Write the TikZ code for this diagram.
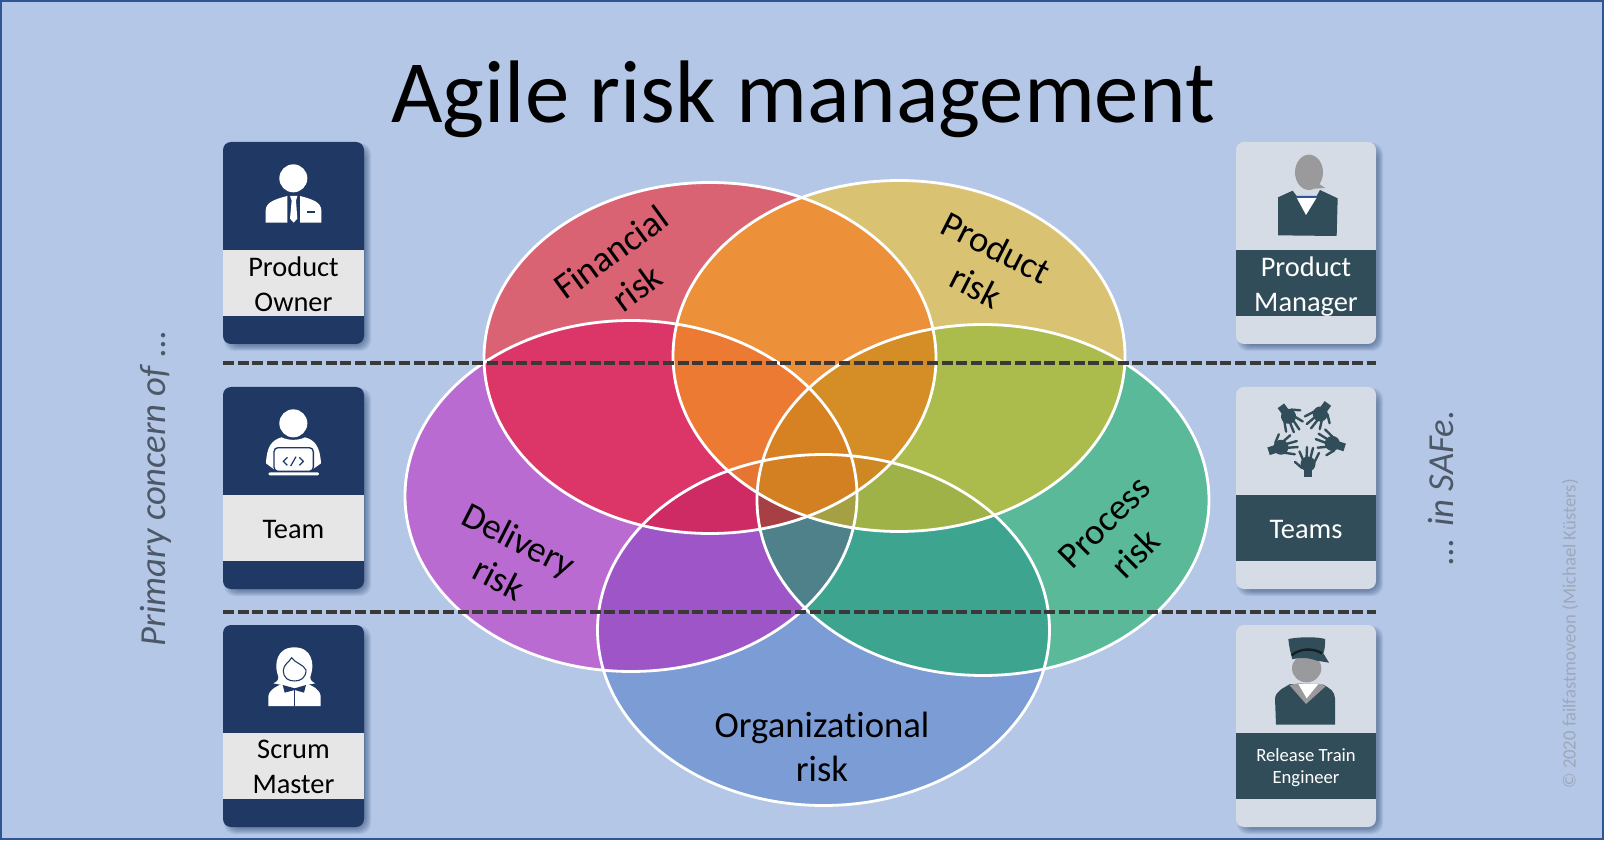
\documentclass[tikz,border=0pt]{standalone}
\usepackage{fontspec}
\setmainfont[Ligatures=NoCommon]{Carlito}
\usetikzlibrary{positioning}
\usetikzlibrary{calc}

\definecolor{bgblue}{HTML}{B4C7E7}
\definecolor{rimblue}{HTML}{2F5597}
\definecolor{navy}{HTML}{1F3864}
\definecolor{stripegray}{HTML}{E7E6E6}
\definecolor{cardgray}{HTML}{D6DCE5}
\definecolor{slate}{HTML}{314D5A}
\definecolor{headgray}{HTML}{9A9A9C}
\definecolor{dashgray}{HTML}{3B3838}
\definecolor{notegray}{HTML}{4D5866}
\definecolor{markgray}{HTML}{9EA8B9}
\definecolor{finrisk}{HTML}{FF0000}
\definecolor{prodrisk}{HTML}{FFC000}
\definecolor{delrisk}{HTML}{C010BD}
\definecolor{procrisk}{HTML}{00AD4D}
\definecolor{orgrisk}{HTML}{4672C5}

\newcommand{\cardfont}{\fontsize{21.3}{26.2}\selectfont}
\newcommand{\rtefont}{\fontsize{14}{16.5}\selectfont}
\newcommand{\riskfont}{\fontsize{27.5}{33}\selectfont}

\tikzset{
  zoomed/.style={shift={#1},x=0.25pt,y=-0.25pt},
  cardbody/.style={rectangle,rounded corners=6pt,minimum height=151.5pt,inner sep=0pt},
  stripe/.style={rectangle,minimum height=49.8pt,inner sep=0pt},
  cardlabel/.style={align=center,inner sep=0pt},
  risklabel/.style={font=\riskfont,align=center,inner sep=0pt},
  sidenote/.style={font=\fontsize{27.5}{32}\selectfont\itshape,text=notegray,rotate=90,inner sep=0pt},
  cutline/.style={dashgray,line width=2.7pt,dash pattern=on 8.2pt off 2.8pt}
}

\begin{document}
\begin{tikzpicture}[x=0.75pt,y=-0.75pt]
  \useasboundingbox (0,0) rectangle (1604,866);

  %background
  \fill[white] (0,0) rectangle (1604,866);
  \draw[rimblue,fill=bgblue,line width=1.8pt] (1,1) rectangle (1603,839);

  \node[font=\fontsize{66.6}{70}\selectfont,inner sep=0pt] (title) at (803,99) {Agile risk management};

  %risk ellipses
  \foreach \name/\cx/\cy/\col in {org/823.5/630/orgrisk, del/631/496/delrisk, proc/983/500/procrisk, fin/710/358/finrisk, prod/899/356/prodrisk}{
    \coordinate (\name) at (\cx,\cy);
    \fill[\col,fill opacity=0.5] (\name) ellipse [x radius=226,y radius=175.5];
  }
  \foreach \name in {org,proc,del,fin,prod}{
    \draw[white,line width=2.1pt] (\name) ellipse [x radius=226,y radius=175.5];
  }

  \node[risklabel,rotate=36] (finlabel) at (624,270) {Financial\\risk};
  \node[risklabel,rotate=-27] (prodlabel) at (986,267) {Product\\risk};
  \node[risklabel,rotate=-27] (dellabel) at (509,559) {Delivery\\risk};
  \node[risklabel,rotate=45] (proclabel) at (1120,538) {Process\\risk};
  \node[risklabel] (orglabel) at (822,747) {Organizational\\risk};

  %cut lines
  \coordinate (cutAw) at (223,363);
  \coordinate (cutAe) at (1376,363);
  \coordinate (cutBw) at (223,612);
  \coordinate (cutBe) at (1376,612);
  \draw[cutline] (cutAw) -- (cutAe);
  \draw[cutline] (cutBw) -- (cutBe);

  %left cards
  \def\w{141};
  \def\cx{223};
  \foreach \name/\top/\txt in {po/142/Product\\Owner, team/387/Team, sm/625/Scrum\\Master}{
    \foreach \k in {3,2,1,0,-1,-2,-3}{
      \fill[navy,opacity=0.09,rounded corners=8pt] (\cx+4-\k,\top+4-\k) rectangle (\cx+\w+4+\k,\top+202+4+\k);
    }
    \node[cardbody,fill=navy,minimum width=\w*0.75pt] (\name card) at (\cx+\w/2,\top+101) {};
    \node[stripe,fill=stripegray,minimum width=\w*0.75pt] (\name stripe) at (\cx+\w/2,\top+141) {};
    \node[cardlabel,font=\cardfont] (\name label) at (\cx+\w/2,\top+142) {\txt};
  }

  %right cards
  \def\w{140};
  \def\cx{1236};
  \foreach \name/\top/\ly/\txt/\fnt in {pm/142/144.5/Product\\Manager/\cardfont, teams/387/142.5/Teams/\cardfont, rte/625/142.5/Release Train\\Engineer/\rtefont}{
    \foreach \k in {3,2,1,0,-1,-2,-3}{
      \fill[navy,opacity=0.09,rounded corners=8pt] (\cx+4-\k,\top+4-\k) rectangle (\cx+\w+4+\k,\top+202+4+\k);
    }
    \node[cardbody,fill=cardgray,minimum width=\w*0.75pt] (\name card) at (\cx+\w/2,\top+101) {};
    \node[stripe,fill=slate,minimum width=\w*0.75pt] (\name stripe) at (\cx+\w/2,\top+141) {};
    \node[cardlabel,text=white,font=\fnt] (\name label) at (\cx+\w/2,\top+\ly) {\txt};
  }

  %product owner icon
  \begin{scope}[zoomed={(200,120)}]
    \fill[white] (280,175) circle [radius=42];
    \fill[white] (197,308) -- (197,272) .. controls (197,248) and (222,238) .. (262,228) -- (262,308) -- cycle;
    \fill[white] (364,308) -- (364,272) .. controls (364,248) and (340,238) .. (300,228) -- (300,308) -- cycle;
    \fill[white] (270,228) -- (292,228) -- (288,242) -- (292,296) -- (281,308) -- (270,296) -- (275,242) -- cycle;
    \fill[navy] (320,274) rectangle (345,280);
  \end{scope}

  %team icon
  \begin{scope}[zoomed={(200,380)}]
    \fill[white] (280,130) circle [radius=42];
    \fill[white] (198,250) .. controls (200,200) and (215,180) .. (245,172) .. controls (265,182) and (295,182) .. (315,172) .. controls (345,180) and (360,200) .. (363,250) -- (338,268) -- (222,268) -- cycle;
    \draw[navy,fill=white,line width=1pt,rounded corners=3pt] (222,203) -- (340,203) -- (340,274) -- (222,274) -- cycle;
    \fill[white,rounded corners=1pt] (205,277) rectangle (357,286);
    \draw[navy,line width=0.9pt] (262,232) -- (250,244) -- (262,256) (272,258) -- (288,230) (298,232) -- (310,244) -- (298,256);
  \end{scope}

  %scrum master icon
  \begin{scope}[zoomed={(200,620)}]
    \fill[white] (220,190) .. controls (232,185) and (240,178) .. (232,160) .. controls (224,135) and (228,82) .. (283,82) .. controls (338,82) and (342,135) .. (334,160) .. controls (326,178) and (334,185) .. (346,190) -- (300,198) -- (262,198) -- cycle;
    \fill[white] (205,258) -- (205,228) .. controls (210,205) and (235,197) .. (255,188) -- (315,188) .. controls (335,197) and (358,205) .. (362,228) -- (362,258) -- cycle;
    \draw[navy,fill=white,line width=0.8pt] (250,150) .. controls (252,132) and (265,130) .. (275,113) .. controls (285,130) and (310,132) .. (318,150) .. controls (318,175) and (300,183) .. (284,183) .. controls (265,183) and (250,175) .. (250,150) -- cycle;
    \fill[navy] (248,195) -- (284,205) -- (318,195) -- (312,218) -- (284,210) -- (254,218) -- cycle;
    \draw[navy,line width=0.6pt] (284,210) -- (284,258);
  \end{scope}

  %product manager icon
  \begin{scope}[zoomed={(1220,130)}]
    \fill[headgray] (267,127) ellipse [x radius=42,y radius=53];
    \fill[headgray] (295,160) -- (316,174) -- (285,176) -- cycle;
    \fill[slate] (174,202) -- (218,182) -- (230,198) -- (290,198) -- (300,180) -- (353,205) -- (350,318) -- (174,316) -- cycle;
    \fill[white] (230,203) -- (290,203) -- (258,255) -- cycle;
    \fill[rimblue] (230,198) rectangle (290,204);
  \end{scope}

  %teams icon
  \foreach \a in {0,72,144,216,288}{
    \begin{scope}[shift={(1306,437)},rotate=\a]
      \fill[slate] (2,27) ellipse [x radius=7.5,y radius=7.5];
      \fill[slate] (-2,28) rectangle (6,40);
      \draw[slate,line width=1.8pt,line cap=round] (-2,25) -- (-6.5,14.5) (0.5,23) -- (1,10) (4,23) -- (7,11) (8,26) -- (13,16) (-4,31) -- (-11,25);
    \end{scope}
  }

  %release train engineer icon
  \begin{scope}[zoomed={(1220,620)}]
    \fill[headgray] (260,145) ellipse [x radius=44,y radius=42];
    \fill[slate] (168,314) -- (165,235) .. controls (168,212) and (190,205) .. (210,192) -- (310,194) .. controls (330,205) and (345,215) .. (345,235) -- (345,314) -- cycle;
    \fill[headgray] (208,195) -- (235,190) -- (295,192) -- (318,198) -- (258,252) -- cycle;
    \fill[white] (235,192) -- (295,192) -- (260,235) -- cycle;
    \fill[slate] (205,57) .. controls (240,50) and (290,50) .. (315,57) .. controls (316,75) and (314,90) .. (310,100) -- (327,128) -- (290,122) .. controls (265,112) and (235,112) .. (217,118) .. controls (212,100) and (207,80) .. (205,57) -- cycle;
    \draw[black!60!slate,line width=1.8pt] (215,106) .. controls (240,84) and (280,84) .. (306,100);
  \end{scope}

  %side notes
  \node[sidenote] (primary) at (156,488) {Primary concern of ...};
  \node[sidenote] (safe) at (1441,488) {... in SAFe.};
  \node[font=\fontsize{14}{17}\selectfont,text=markgray,rotate=90,inner sep=0pt] (mark) at (1570,634) {© 2020 failfastmoveon (Michael Küsters)};
\end{tikzpicture}
\end{document}
